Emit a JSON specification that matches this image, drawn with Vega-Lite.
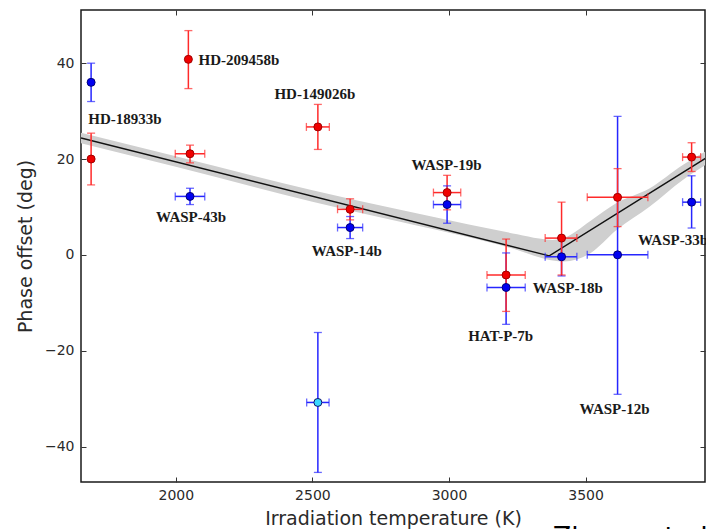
{
  "$schema": "https://vega.github.io/schema/vega-lite/v6.json",
  "width": 624,
  "height": 472,
  "autosize": {"type": "none"},
  "padding": {"left": 81, "top": 10, "right": 1, "bottom": 47},
  "background": "white",
  "config": {
    "view": {"stroke": "#1a1a1a", "strokeWidth": 1.5},
    "axis": {
      "grid": false,
      "domain": false,
      "tickColor": "#333333",
      "tickSize": -5,
      "tickWidth": 1,
      "labelFont": "DejaVu Sans",
      "labelFontSize": 14,
      "labelColor": "#2a2a2a",
      "titleFont": "DejaVu Sans",
      "titleFontSize": 19,
      "titleFontWeight": "normal",
      "titleColor": "#2a2a2a"
    }
  },
  "resolve": {"axis": {"x": "independent", "y": "independent"}},
  "datasets": {
    "pts": [
      {"planet": "HD-189733b", "grp": "blue", "T": 1690, "T_lo": 1690, "T_hi": 1690, "off": 36.0, "off_lo": 32.0, "off_hi": 40.0},
      {"planet": "WASP-43b", "grp": "blue", "T": 2052, "T_lo": 1998, "T_hi": 2106, "off": 12.2, "off_lo": 10.5, "off_hi": 13.9},
      {"planet": "HD-149026b", "grp": "cyan", "T": 2520, "T_lo": 2479, "T_hi": 2561, "off": -30.8, "off_lo": -45.4, "off_hi": -16.2},
      {"planet": "WASP-14b", "grp": "blue", "T": 2638, "T_lo": 2592, "T_hi": 2684, "off": 5.7, "off_lo": 3.4, "off_hi": 8.0},
      {"planet": "WASP-19b", "grp": "blue", "T": 2993, "T_lo": 2943, "T_hi": 3043, "off": 10.5, "off_lo": 6.6, "off_hi": 14.4},
      {"planet": "HAT-P-7b", "grp": "blue", "T": 3209, "T_lo": 3139, "T_hi": 3279, "off": -6.8, "off_lo": -14.5, "off_hi": 0.4},
      {"planet": "WASP-18b", "grp": "blue", "T": 3412, "T_lo": 3352, "T_hi": 3468, "off": -0.4, "off_lo": -4.4, "off_hi": 3.6},
      {"planet": "WASP-12b", "grp": "blue", "T": 3617, "T_lo": 3506, "T_hi": 3728, "off": 0.0, "off_lo": -29.1, "off_hi": 28.9},
      {"planet": "WASP-33b", "grp": "blue", "T": 3888, "T_lo": 3855, "T_hi": 3921, "off": 11.0, "off_lo": 5.6, "off_hi": 16.5},
      {"planet": "HD-189733b", "grp": "red", "T": 1690, "T_lo": 1690, "T_hi": 1690, "off": 20.0, "off_lo": 14.6, "off_hi": 25.4},
      {"planet": "HD-209458b", "grp": "red", "T": 2046, "T_lo": 2046, "T_hi": 2046, "off": 40.8, "off_lo": 34.7, "off_hi": 46.8},
      {"planet": "WASP-43b", "grp": "red", "T": 2052, "T_lo": 1998, "T_hi": 2106, "off": 21.1, "off_lo": 19.2, "off_hi": 22.9},
      {"planet": "HD-149026b", "grp": "red", "T": 2520, "T_lo": 2478, "T_hi": 2562, "off": 26.7, "off_lo": 22.0, "off_hi": 31.4},
      {"planet": "WASP-14b", "grp": "red", "T": 2638, "T_lo": 2592, "T_hi": 2684, "off": 9.5, "off_lo": 7.3, "off_hi": 11.7},
      {"planet": "WASP-19b", "grp": "red", "T": 2993, "T_lo": 2943, "T_hi": 3043, "off": 13.0, "off_lo": 9.4, "off_hi": 16.6},
      {"planet": "HAT-P-7b", "grp": "red", "T": 3209, "T_lo": 3139, "T_hi": 3279, "off": -4.2, "off_lo": -11.8, "off_hi": 3.3},
      {"planet": "WASP-18b", "grp": "red", "T": 3412, "T_lo": 3352, "T_hi": 3468, "off": 3.5, "off_lo": -4.2, "off_hi": 11.0},
      {"planet": "WASP-12b", "grp": "red", "T": 3617, "T_lo": 3506, "T_hi": 3728, "off": 12.0, "off_lo": 5.9, "off_hi": 18.0},
      {"planet": "WASP-33b", "grp": "red", "T": 3888, "T_lo": 3855, "T_hi": 3921, "off": 20.4, "off_lo": 17.4, "off_hi": 23.4}
    ],
    "band": [
      {"T": 1653, "lo": 23.3, "hi": 25.5},
      {"T": 2000, "lo": 18.4, "hi": 20.6},
      {"T": 2500, "lo": 11.1, "hi": 13.5},
      {"T": 2821, "lo": 6.9, "hi": 9.4},
      {"T": 3077, "lo": 3.6, "hi": 6.3},
      {"T": 3250, "lo": 1.0, "hi": 4.3},
      {"T": 3330, "lo": -0.5, "hi": 3.4},
      {"T": 3380, "lo": -1.2, "hi": 3.1},
      {"T": 3420, "lo": -1.4, "hi": 3.5},
      {"T": 3516, "lo": 0.3, "hi": 7.0},
      {"T": 3613, "lo": 5.2, "hi": 10.8},
      {"T": 3735, "lo": 10.1, "hi": 13.9},
      {"T": 3857, "lo": 15.7, "hi": 18.8},
      {"T": 3940, "lo": 18.8, "hi": 21.6}
    ],
    "fit": [
      {"T": 1653, "off": 24.4},
      {"T": 3367, "off": -0.2},
      {"T": 3940, "off": 20.2}
    ],
    "labels": [
      {"name": "HD-18933b", "T": 1814, "off": 28.3},
      {"name": "HD-209458b", "T": 2231, "off": 40.7},
      {"name": "HD-149026b", "T": 2509, "off": 33.5},
      {"name": "WASP-43b", "T": 2056, "off": 8.0},
      {"name": "WASP-14b", "T": 2626, "off": 0.8},
      {"name": "WASP-19b", "T": 2991, "off": 18.7},
      {"name": "HAT-P-7b", "T": 3189, "off": -17.0},
      {"name": "WASP-18b", "T": 3435, "off": -6.9},
      {"name": "WASP-12b", "T": 3606, "off": -32.2},
      {"name": "WASP-33b", "T": 3820, "off": 3.2}
    ],
    "credit": [
      {"text": "Zhang et al.", "T": 3380, "off": -56.3}
    ]
  },
  "layer": [
    {
      "data": {"name": "band"},
      "mark": {"type": "area", "color": "#cfcfcf", "opacity": 1, "clip": true, "interpolate": "monotone"},
      "encoding": {
        "x": {"field": "T", "type": "quantitative", "scale": {"domain": [1653, 3937], "nice": false, "zero": false},
              "axis": {"orient": "bottom", "values": [2000, 2500, 3000, 3500], "format": "d", "title": "Irradiation temperature (K)", "labelPadding": 11, "titlePadding": 7}},
        "y": {"field": "lo", "type": "quantitative", "scale": {"domain": [-47.4, 51.1], "nice": false, "zero": false},
              "axis": {"orient": "left", "values": [-40, -20, 0, 20, 40], "title": "Phase offset (deg)", "labelPadding": 12, "titlePadding": 9}},
        "y2": {"field": "hi"}
      }
    },
    {
      "data": {"name": "fit"},
      "mark": {"type": "line", "color": "#111111", "strokeWidth": 1.4, "clip": true},
      "encoding": {
        "x": {"field": "T", "type": "quantitative", "scale": {"domain": [1653, 3937], "nice": false, "zero": false},
              "axis": {"orient": "top", "values": [2000, 2500, 3000, 3500], "labels": false, "title": null}},
        "y": {"field": "off", "type": "quantitative", "scale": {"domain": [-47.4, 51.1], "nice": false, "zero": false},
              "axis": {"orient": "right", "values": [-40, -20, 0, 20, 40], "labels": false, "title": null}}
      }
    },
    {
      "data": {"name": "pts"},
      "mark": {"type": "rule", "strokeWidth": 1.5},
      "encoding": {
        "x": {"field": "T", "type": "quantitative", "scale": {"domain": [1653, 3937], "nice": false, "zero": false}, "axis": null},
        "y": {"field": "off_lo", "type": "quantitative", "scale": {"domain": [-47.4, 51.1], "nice": false, "zero": false}, "axis": null},
        "y2": {"field": "off_hi"},
        "color": {"field": "grp", "type": "nominal", "scale": {"domain": ["red", "blue", "cyan"], "range": ["#ff2a2a", "#2626ff", "#2626ff"]}, "legend": null}
      }
    },
    {
      "data": {"name": "pts"},
      "transform": [{"fold": ["off_lo", "off_hi"], "as": ["k", "v"]}],
      "mark": {"type": "tick", "orient": "horizontal", "size": 8, "thickness": 1.3},
      "encoding": {
        "x": {"field": "T", "type": "quantitative", "scale": {"domain": [1653, 3937], "nice": false, "zero": false}, "axis": null},
        "y": {"field": "v", "type": "quantitative", "scale": {"domain": [-47.4, 51.1], "nice": false, "zero": false}, "axis": null},
        "color": {"field": "grp", "type": "nominal", "scale": {"domain": ["red", "blue", "cyan"], "range": ["#ff2a2a", "#2626ff", "#2626ff"]}, "legend": null}
      }
    },
    {
      "data": {"name": "pts"},
      "transform": [{"filter": "datum.T_hi > datum.T_lo"}],
      "mark": {"type": "rule", "strokeWidth": 1.5},
      "encoding": {
        "x": {"field": "T_lo", "type": "quantitative", "scale": {"domain": [1653, 3937], "nice": false, "zero": false}, "axis": null},
        "x2": {"field": "T_hi"},
        "y": {"field": "off", "type": "quantitative", "scale": {"domain": [-47.4, 51.1], "nice": false, "zero": false}, "axis": null},
        "color": {"field": "grp", "type": "nominal", "scale": {"domain": ["red", "blue", "cyan"], "range": ["#ff2a2a", "#2626ff", "#2626ff"]}, "legend": null}
      }
    },
    {
      "data": {"name": "pts"},
      "transform": [{"filter": "datum.T_hi > datum.T_lo"}, {"fold": ["T_lo", "T_hi"], "as": ["k", "v"]}],
      "mark": {"type": "tick", "orient": "vertical", "size": 8, "thickness": 1.3},
      "encoding": {
        "x": {"field": "v", "type": "quantitative", "scale": {"domain": [1653, 3937], "nice": false, "zero": false}, "axis": null},
        "y": {"field": "off", "type": "quantitative", "scale": {"domain": [-47.4, 51.1], "nice": false, "zero": false}, "axis": null},
        "color": {"field": "grp", "type": "nominal", "scale": {"domain": ["red", "blue", "cyan"], "range": ["#ff2a2a", "#2626ff", "#2626ff"]}, "legend": null}
      }
    },
    {
      "data": {"name": "pts"},
      "mark": {"type": "point", "filled": true, "size": 64, "strokeWidth": 1, "opacity": 1},
      "encoding": {
        "x": {"field": "T", "type": "quantitative", "scale": {"domain": [1653, 3937], "nice": false, "zero": false}, "axis": null},
        "y": {"field": "off", "type": "quantitative", "scale": {"domain": [-47.4, 51.1], "nice": false, "zero": false}, "axis": null},
        "fill": {"field": "grp", "type": "nominal", "scale": {"domain": ["red", "blue", "cyan"], "range": ["#f00000", "#0000f0", "#3ad8ff"]}, "legend": null},
        "stroke": {"field": "grp", "type": "nominal", "scale": {"domain": ["red", "blue", "cyan"], "range": ["#a00000", "#00007a", "#10106a"]}, "legend": null}
      }
    },
    {
      "data": {"name": "labels"},
      "mark": {"type": "text", "font": "Liberation Serif", "fontWeight": "bold", "fontSize": 15, "color": "#1a1a1a", "align": "center", "baseline": "middle"},
      "encoding": {
        "x": {"field": "T", "type": "quantitative", "scale": {"domain": [1653, 3937], "nice": false, "zero": false}, "axis": null},
        "y": {"field": "off", "type": "quantitative", "scale": {"domain": [-47.4, 51.1], "nice": false, "zero": false}, "axis": null},
        "text": {"field": "name", "type": "nominal"}
      }
    },
    {
      "data": {"name": "credit"},
      "mark": {"type": "text", "font": "DejaVu Sans", "fontSize": 27, "color": "#000000", "align": "left", "baseline": "top", "clip": false},
      "encoding": {
        "x": {"field": "T", "type": "quantitative", "scale": {"domain": [1653, 3937], "nice": false, "zero": false}, "axis": null},
        "y": {"field": "off", "type": "quantitative", "scale": {"domain": [-47.4, 51.1], "nice": false, "zero": false}, "axis": null},
        "text": {"field": "text", "type": "nominal"}
      }
    }
  ]
}
